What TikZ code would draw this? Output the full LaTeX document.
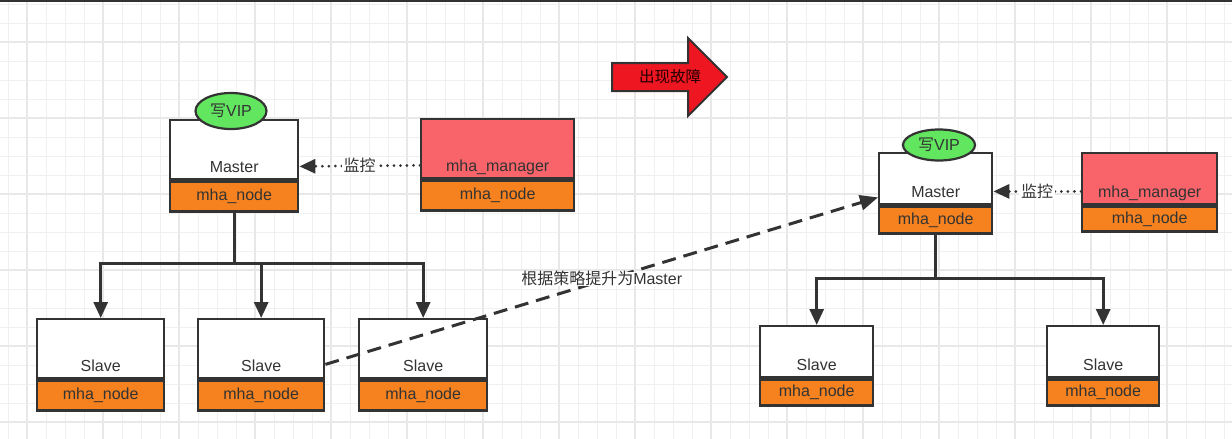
\documentclass[tikz,border=0pt]{standalone}
\usepackage{fontspec}
\setmainfont{Liberation Sans}
\newfontfamily\cjk{Noto Sans CJK SC}
\usetikzlibrary{shapes.geometric,arrows.meta,calc}
\definecolor{bd}{HTML}{333333}
\definecolor{orangefill}{HTML}{F5821F}
\definecolor{mgrfill}{HTML}{F9646B}
\definecolor{vipfill}{HTML}{62E660}
\definecolor{arrowred}{HTML}{EE1620}
\definecolor{gridthin}{HTML}{F0F0F0}
\definecolor{gridthick}{HTML}{E8E8E8}
\tikzset{
  boxpart/.style={draw=bd, line width=2.4pt, anchor=north west, inner sep=0pt},
  txt/.style={inner sep=0pt, text height=11.5pt, text depth=0pt, text=bd, font=\fontsize{16}{19}\selectfont},
  vip/.style={ellipse, draw=bd, line width=2.2pt, fill=vipfill, inner sep=0pt, text=bd, font=\fontsize{16}{19}\selectfont},
  tree/.style={draw=bd, line width=3pt},
  treearrow/.style={tree, -{Triangle[length=16pt,width=14pt]}},
  dotarrow/.style={draw=bd, line width=3pt, line cap=round, dash pattern=on 0.01pt off 6.5pt, -{Triangle[length=16pt,width=14pt,line cap=butt]}},
  dasharrow/.style={draw=bd, line width=3pt, dash pattern=on 14pt off 8pt, -{Triangle[length=18pt,width=15pt]}},
  lbl/.style={txt, fill=white, inner sep=2pt}
}
\newcommand\nbox[8]{%
  \node[boxpart, fill=#8, minimum width=#4pt, minimum height=#5pt] (#1top) at (#2,#3) {};
  \node[boxpart, fill=orangefill, minimum width=#4pt, minimum height=#6pt] (#1bot) at (#1top.south west) {};
  \node[txt] (#1txt) at ($(#1top.south)+(0,-14)$) {#7};
  \node[txt] (#1node) at ($(#1bot.center)+(0,-1.5)$) {mha\_node};
}
\begin{document}
\begin{tikzpicture}[x=1pt,y=-1pt]
\useasboundingbox (0,0) rectangle (1232,439);
\fill[white] (0,0) rectangle (1232,439);
% grid
\foreach \k in {0,...,64} \draw[gridthin, line width=1pt] (8+19*\k,0) -- (8+19*\k,439);
\foreach \k in {0,...,22} \draw[gridthin, line width=1pt] (0,4+19*\k) -- (1232,4+19*\k);
\foreach \k in {0,...,15} \draw[gridthick, line width=1.4pt] (27+76*\k,0) -- (27+76*\k,439);
\foreach \k in {0,...,5} \draw[gridthick, line width=1.4pt] (0,42+76*\k) -- (1232,42+76*\k);
\draw[bd, line width=2pt] (0,0.5) -- (1232,0.5);

% ---------- left side ----------
\nbox{ma}{169}{119}{128}{59}{30}{Master}{white}
\node[vip, minimum width=71pt, minimum height=36pt] (vipa) at (231,111) {{\cjk 写}VIP};
\nbox{mga}{420}{118}{153}{59}{30}{mha\_manager}{mgrfill}
\nbox{sa}{36}{318}{127}{59}{30}{Slave}{white}
\nbox{sb}{197}{318}{126}{59}{30}{Slave}{white}
\nbox{sc}{358}{318}{128}{59}{30}{Slave}{white}

\draw[dotarrow] (mgatxt -| mgatop.west) -- (matxt -| matop.east)
  node[lbl, midway] (mona) {\cjk 监控};

\coordinate (ja) at (mabot.south |- 0,263);
\draw[tree] (mabot.south) -- (ja);
\draw[treearrow] (ja) -| (satop.north);
\draw[treearrow] (ja) -| (sbtop.north);
\draw[treearrow] (ja) -| (sctop.north);

% ---------- failure arrow ----------
\draw[draw=bd, line width=2pt, fill=arrowred, line join=miter]
  (612,63) -- (688,63) -- (688,38) -- (727,77) -- (688,116) -- (688,91) -- (612,91) -- cycle;
\node[txt, text=black!85!red, font=\cjk\fontsize{15.5}{18}\selectfont] (fail) at (670,77) {出现故障};

% ---------- right side ----------
\nbox{mb}{878}{152}{113}{51}{27}{Master}{white}
\node[vip, minimum width=72pt, minimum height=31pt] (vipb) at (939,145) {{\cjk 写}VIP};
\nbox{mgb}{1081}{152}{135}{51}{25}{mha\_manager}{mgrfill}
\nbox{sd}{759}{325}{113}{51}{26}{Slave}{white}
\nbox{se}{1046}{325}{112}{51}{26}{Slave}{white}

\draw[dotarrow] (mgbtxt -| mgbtop.west) -- (mbtxt -| mbtop.east)
  node[lbl, midway] (monb) {\cjk 监控};

\coordinate (jb) at (mbbot.south |- 0,278);
\draw[tree] (mbbot.south) -- (jb);
\draw[treearrow] (jb) -| (sdtop.north);
\draw[treearrow] (jb) -| (setop.north);

% ---------- promotion ----------
\draw[dasharrow] ($(sbtop.south east)+(0,-15)$) -- ($(mbtop.south west)+(0,-8)$)
  node[lbl, midway, inner sep=1pt, yshift=2pt] (promo) {{\cjk 根据策略提升为}Master};
\end{tikzpicture}
\end{document}
